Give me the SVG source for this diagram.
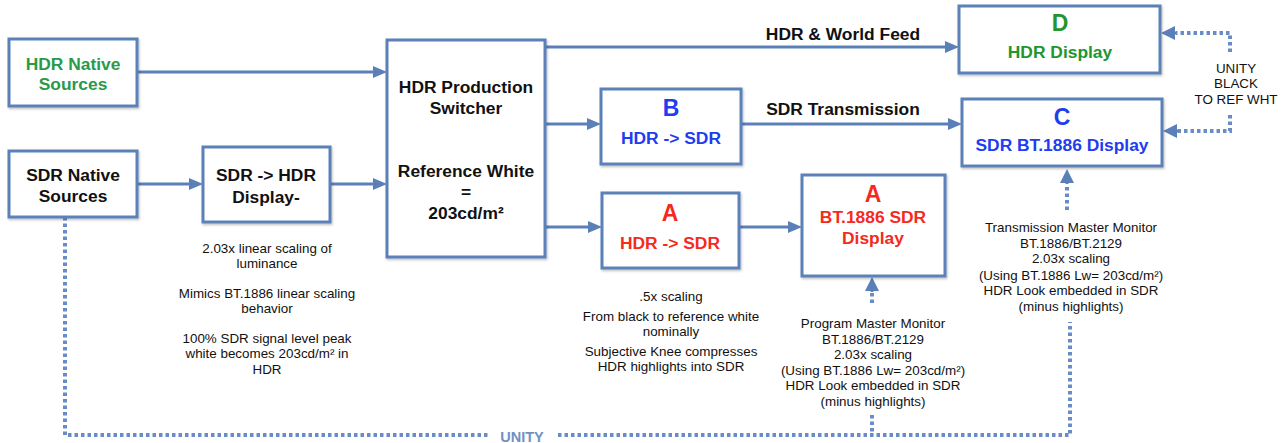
<svg xmlns="http://www.w3.org/2000/svg" width="1287" height="443" viewBox="0 0 1287 443">
<style>
.box{fill:#fff;stroke:#5b80b8;stroke-width:3}
.ln{fill:none;stroke:#5b80b8;stroke-width:3}
.dot{fill:none;stroke:#6a8cc4;stroke-width:4;stroke-dasharray:3.5 3}
text{font-family:"Liberation Sans",Arial,sans-serif;text-anchor:middle}
.b{font-weight:bold;font-size:17.4px;fill:#111}
.big{font-weight:bold;font-size:23px}
.cap{font-size:13.4px;fill:#111}
.g{fill:#2a9a48}
.gd{fill:#22962e}
.bl{fill:#1e3cf0}
.rd{fill:#f52a1e}
</style>
<defs>
<marker id="ah" viewBox="0 0 14 12" refX="0" refY="6" markerWidth="14" markerHeight="12" markerUnits="userSpaceOnUse" orient="auto"><path d="M0,0 L14,6 L0,12 z" fill="#5b80b8"/></marker>
<marker id="ahd" viewBox="0 0 14 14" refX="0" refY="7" markerWidth="14" markerHeight="14" markerUnits="userSpaceOnUse" orient="auto"><path d="M0,0 L14,7 L0,14 z" fill="#5b80b8"/></marker>
<filter id="sh" x="-10%" y="-10%" width="130%" height="130%"><feDropShadow dx="1" dy="1.5" stdDeviation="1.2" flood-color="#000" flood-opacity="0.25"/></filter>
</defs>

<g id="connectors">
<path class="ln" d="M137,72 H373" marker-end="url(#ah)"/>
<path class="ln" d="M137,184 H189" marker-end="url(#ah)"/>
<path class="ln" d="M330,184 H373" marker-end="url(#ah)"/>
<path class="ln" d="M545,47 H945" marker-end="url(#ah)"/>
<path class="ln" d="M545,124 H587" marker-end="url(#ah)"/>
<path class="ln" d="M741,124 H948" marker-end="url(#ah)"/>
<path class="ln" d="M545,227 H588" marker-end="url(#ah)"/>
<path class="ln" d="M739,227 H788" marker-end="url(#ah)"/>
<text class="b" x="843" y="39.5">HDR &amp; World Feed</text>
<text class="b" x="843" y="114.5">SDR Transmission</text>
<path class="dot" d="M1230,52 V33 H1176"/>
<path class="ln" d="M1176,33 H1175" marker-end="url(#ahd)" stroke-width="0"/>
<path class="dot" d="M1230,115 V131 H1178"/>
<path class="ln" d="M1178,131 H1177" marker-end="url(#ahd)" stroke-width="0"/>
<text class="cap" x="1236" y="72.5">UNITY</text>
<text class="cap" x="1236" y="88">BLACK</text>
<text class="cap" x="1236" y="103.5">TO REF WHT</text>
<path class="dot" d="M872,303 V292"/>
<path class="ln" d="M872,292 V291" marker-end="url(#ahd)" stroke-width="0"/>
<path class="dot" d="M1067,210 V184"/>
<path class="ln" d="M1067,184 V183" marker-end="url(#ahd)" stroke-width="0"/>
<path class="dot" d="M65,217 V435 H490"/>
<path class="dot" d="M558,435 H1070 V322"/>
<path class="dot" d="M872,415 V435"/>
<text x="522" y="442" style="font-weight:bold;font-size:14.5px;fill:#7090c4">UNITY</text>
</g>

<g id="hdr-native">
<rect class="box" x="9" y="39" width="128" height="67" filter="url(#sh)"/>
<text class="b g" x="73" y="69.5">HDR Native</text>
<text class="b g" x="73" y="89.5">Sources</text>
</g>

<g id="sdr-native">
<rect class="box" x="9" y="151" width="128" height="66" filter="url(#sh)"/>
<text class="b" x="73" y="180.5">SDR Native</text>
<text class="b" x="73" y="201.5">Sources</text>
</g>

<g id="sdr-to-hdr">
<rect class="box" x="203" y="147" width="127" height="75" filter="url(#sh)"/>
<text class="b" x="266" y="180.5">SDR -&gt; HDR</text>
<text class="b" x="266" y="202.5">Display-</text>
<text class="cap" x="267" y="253">2.03x linear scaling of</text>
<text class="cap" x="267" y="268">luminance</text>
<text class="cap" x="267" y="298">Mimics BT.1886 linear scaling</text>
<text class="cap" x="267" y="313">behavior</text>
<text class="cap" x="267" y="343">100% SDR signal level peak</text>
<text class="cap" x="267" y="358">white becomes 203cd/m² in</text>
<text class="cap" x="267" y="374">HDR</text>
</g>

<g id="switcher">
<rect class="box" x="387" y="40" width="158" height="217" filter="url(#sh)"/>
<text class="b" x="466" y="92.5">HDR Production</text>
<text class="b" x="466" y="113.5">Switcher</text>
<text class="b" x="466" y="176.5">Reference White</text>
<text class="b" x="466" y="197.5">=</text>
<text class="b" x="466" y="218.5">203cd/m²</text>
</g>

<g id="b-hdr-sdr">
<rect class="box" x="601" y="89" width="140" height="75" filter="url(#sh)"/>
<text class="big bl" x="671" y="115.5">B</text>
<text class="b bl" x="671" y="143.5">HDR -&gt; SDR</text>
</g>

<g id="a-hdr-sdr">
<rect class="box" x="602" y="193" width="137" height="75" filter="url(#sh)"/>
<text class="big rd" x="670" y="220.5">A</text>
<text class="b rd" x="670" y="248.5">HDR -&gt; SDR</text>
<text class="cap" x="671" y="301">.5x scaling</text>
<text class="cap" x="671" y="321">From black to reference white</text>
<text class="cap" x="671" y="336">nominally</text>
<text class="cap" x="671" y="356">Subjective Knee compresses</text>
<text class="cap" x="671" y="371">HDR highlights into SDR</text>
</g>

<g id="a-display">
<rect class="box" x="802" y="175" width="143" height="101" filter="url(#sh)"/>
<text class="big rd" x="873" y="201.5">A</text>
<text class="b rd" x="873" y="222.5">BT.1886 SDR</text>
<text class="b rd" x="873" y="243.5">Display</text>
<text class="cap" x="873" y="328">Program Master Monitor</text>
<text class="cap" x="873" y="344">BT.1886/BT.2129</text>
<text class="cap" x="873" y="359">2.03x scaling</text>
<text class="cap" x="873" y="375">(Using BT.1886 Lw= 203cd/m²)</text>
<text class="cap" x="873" y="390">HDR Look embedded in SDR</text>
<text class="cap" x="873" y="406">(minus highlights)</text>
</g>

<g id="d-display">
<rect class="box" x="959" y="6" width="201" height="67" filter="url(#sh)"/>
<text class="big gd" x="1060" y="30.5">D</text>
<text class="b gd" x="1060" y="57.5">HDR Display</text>
</g>

<g id="c-display">
<rect class="box" x="962" y="99" width="200" height="67" filter="url(#sh)"/>
<text class="big bl" x="1062" y="124.5">C</text>
<text class="b bl" x="1062" y="150.5">SDR BT.1886 Display</text>
<text class="cap" x="1071" y="232">Transmission Master Monitor</text>
<text class="cap" x="1071" y="248">BT.1886/BT.2129</text>
<text class="cap" x="1071" y="263">2.03x scaling</text>
<text class="cap" x="1071" y="280">(Using BT.1886 Lw= 203cd/m²)</text>
<text class="cap" x="1071" y="295">HDR Look embedded in SDR</text>
<text class="cap" x="1071" y="311">(minus highlights)</text>
</g>
</svg>
